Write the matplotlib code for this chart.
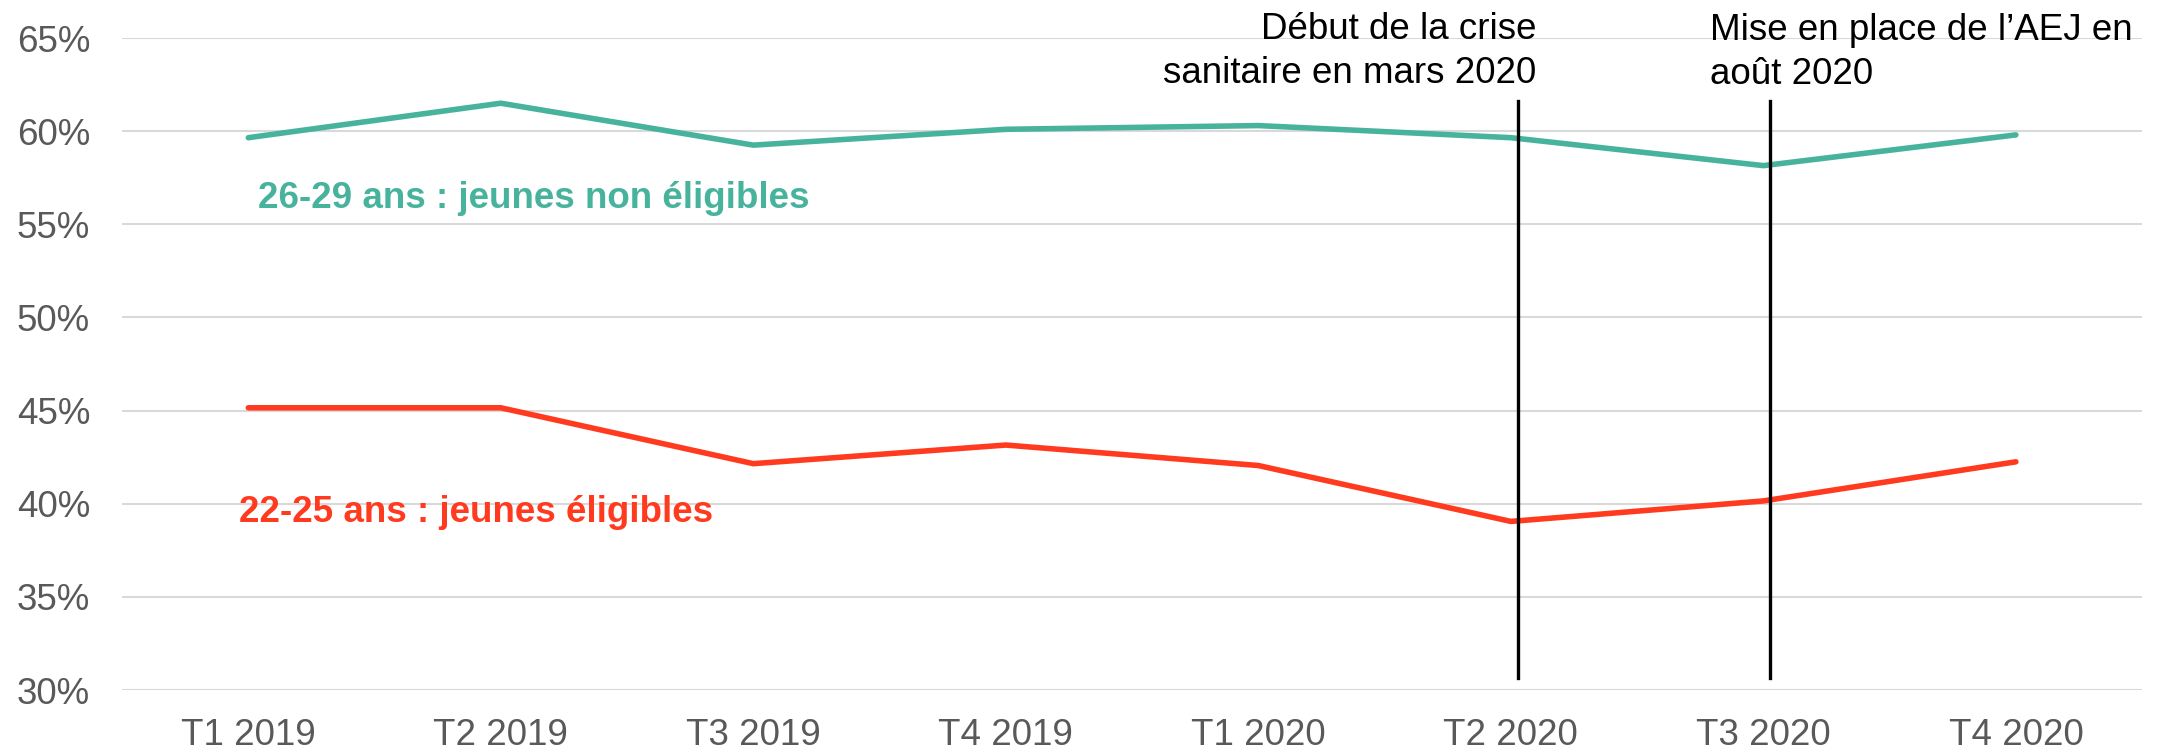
import matplotlib
matplotlib.use("Agg")
import matplotlib.pyplot as plt

# ---- data ----
quarters = ["T1 2019", "T2 2019", "T3 2019", "T4 2019",
            "T1 2020", "T2 2020", "T3 2020", "T4 2020"]
non_eligibles = [59.65, 61.5, 59.25, 60.1, 60.3, 59.65, 58.15, 59.8]   # 26-29 ans
eligibles = [45.15, 45.15, 42.15, 43.15, 42.05, 39.05, 40.15, 42.25]   # 22-25 ans
y_ticks = [30, 35, 40, 45, 50, 55, 60, 65]
event_x = [5.03, 6.025]            # position of the event markers (category units)
event_span = (30.66, 61.62)        # vertical extent of the markers
label_nonelig = "26-29 ans : jeunes non éligibles"
label_elig = "22-25 ans : jeunes éligibles"
note_crise = ["Début de la crise", "sanitaire en mars 2020"]
note_aej = ["Mise en place de l’AEJ en", "août 2020"]

GREEN = "#48B39D"
RED = "#FF3A1F"
GRAY_TXT = "#595959"
GRID = "#D9D9D9"
FS = 26.5

plt.rcParams["font.family"] = ["Liberation Sans", "DejaVu Sans"]

fig = plt.figure(figsize=(21.64, 7.5), dpi=100)
ax = fig.add_axes([0.0564, 0.08, 0.9335, 0.8693])

x = list(range(len(quarters)))
ax.plot(x, non_eligibles, color=GREEN, lw=4.0, solid_capstyle="round",
        solid_joinstyle="round", zorder=3)
ax.plot(x, eligibles, color=RED, lw=4.0, solid_capstyle="round",
        solid_joinstyle="round", zorder=3)

for ex in event_x:
    ax.plot([ex, ex], list(event_span), color="black", lw=2.4, zorder=4)

ax.set_xlim(-0.5, len(quarters) - 0.5)
ax.set_ylim(30, 65)
ax.set_yticks(y_ticks)
ax.set_yticklabels([f"{v}%" for v in y_ticks])
ax.set_xticks(x)
ax.set_xticklabels(quarters)
ax.tick_params(axis="both", length=0, labelsize=FS, labelcolor=GRAY_TXT)
ax.tick_params(axis="y", pad=23)
ax.tick_params(axis="x", pad=20)
ax.grid(axis="y", color=GRID, lw=1.5, zorder=0)
ax.set_axisbelow(True)
for s in ax.spines.values():
    s.set_visible(False)

# series labels
ax.text(0.04, 55.87, label_nonelig, color=GREEN, fontsize=FS,
        fontweight="bold", ha="left", va="baseline")
ax.text(-0.036, 39.04, label_elig, color=RED, fontsize=FS,
        fontweight="bold", ha="left", va="baseline")

# event notes (each line positioned on its own baseline)
line_gap_pt = 44.5 * 72 / 100
for i, line in enumerate(note_crise):
    ax.annotate(line, xy=(5.102, 64.95), xytext=(0, -i * line_gap_pt),
                textcoords="offset points", ha="right", va="baseline",
                fontsize=FS, color="black", annotation_clip=False)
for i, line in enumerate(note_aej):
    ax.annotate(line, xy=(5.79, 64.9), xytext=(0, -i * line_gap_pt),
                textcoords="offset points", ha="left", va="baseline",
                fontsize=FS, color="black", annotation_clip=False)

fig.savefig("out.png", dpi=100)
